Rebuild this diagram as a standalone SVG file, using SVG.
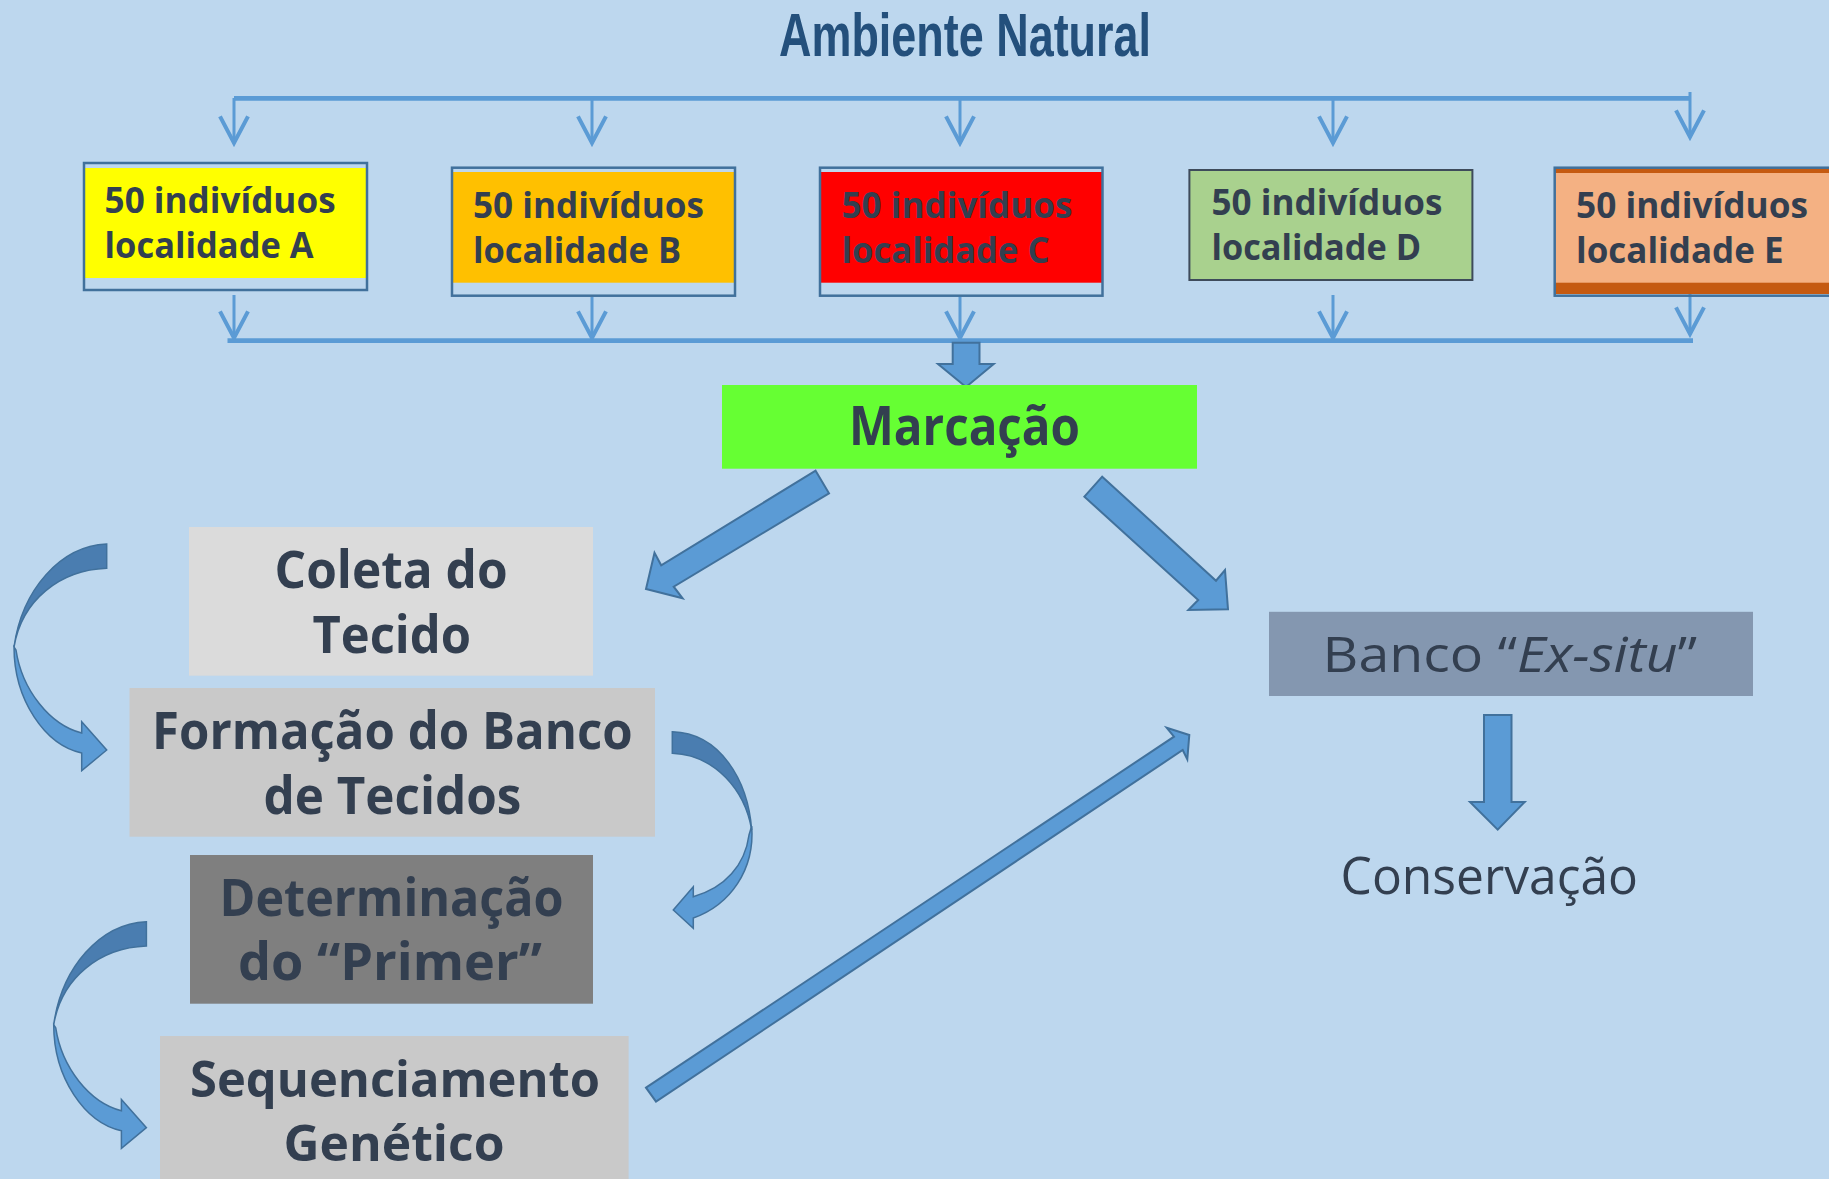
<svg xmlns="http://www.w3.org/2000/svg" width="1829" height="1179" viewBox="0 0 1829 1179">
<style>
.bg{fill:#bdd7ee}
.t{font-family:"Open Sans","DejaVu Sans",sans-serif;fill:#333f50}
.b{font-weight:bold}
.box{font-size:35px}
.big{font-size:52px}
.thin{stroke:#5b9bd5;stroke-width:3;fill:none}
.bar{stroke:#5b9bd5;stroke-width:4.7;fill:none}
.blk{fill:#5b9bd5;stroke:#41719c;stroke-width:2;stroke-linejoin:miter}
.dk{fill:#4a7db0;stroke:#41719c;stroke-width:1.5}
.lt{fill:#5b9bd5;stroke:#41719c;stroke-width:1.5}
.frame{fill:none;stroke:#41719c;stroke-width:2.5}
</style>
<defs>
<marker id="v" markerUnits="userSpaceOnUse" orient="auto" refX="0" refY="0" markerWidth="40" markerHeight="40" viewBox="-25 -15 30 30" overflow="visible">
<path d="M-20,-10.5 L0,0 L-20,10.5" fill="none" stroke="#5b9bd5" stroke-width="3"/>
</marker>
<g id="curl">
<path class="lt" d="M14,647 C14,700 45,745 81.7,753 L81.7,770.7 L106.7,750 L81.7,721.7 L81.7,733 C50,725 22,690 16,650 Z"/>
<path class="dk" d="M106.7,544 C60,546 22,590 14,647 C22,600 60,570 106.7,568.3 Z"/>
</g>
</defs>
<rect class="bg" x="0" y="0" width="1829" height="1179"/>

<g id="title">
<text x="779" y="56" font-size="61" font-weight="bold" textLength="372" lengthAdjust="spacingAndGlyphs" style="fill:#24507c;font-family:'Liberation Sans',sans-serif">Ambiente Natural</text>
</g>

<g id="connectors">
<line class="bar" x1="234" y1="98.3" x2="1691" y2="98.3"/>
<line class="thin" x1="234" y1="98" x2="234" y2="143" marker-end="url(#v)"/>
<line class="thin" x1="592" y1="98" x2="592" y2="143" marker-end="url(#v)"/>
<line class="thin" x1="960" y1="98" x2="960" y2="143" marker-end="url(#v)"/>
<line class="thin" x1="1333" y1="98" x2="1333" y2="143" marker-end="url(#v)"/>
<line class="thin" x1="1690" y1="92" x2="1690" y2="137" marker-end="url(#v)"/>
<line class="thin" x1="234" y1="295" x2="234" y2="338" marker-end="url(#v)"/>
<line class="thin" x1="592" y1="297" x2="592" y2="338" marker-end="url(#v)"/>
<line class="thin" x1="960" y1="297" x2="960" y2="338" marker-end="url(#v)"/>
<line class="thin" x1="1333" y1="295" x2="1333" y2="338" marker-end="url(#v)"/>
<line class="thin" x1="1690" y1="289" x2="1690" y2="334" marker-end="url(#v)"/>
<line class="bar" x1="227.5" y1="340.7" x2="1693" y2="340.7"/>
<polygon class="blk" points="952.7,342.7 979.5,342.7 979.5,364 993.7,364 966,387 938,364 952.7,364"/>
<polygon class="blk" points="815.6,470.7 829,493.3 673.7,586.7 682.6,598.3 646,589 654.5,552.7 661.2,565.3"/>
<polygon class="blk" points="1102.2,476.7 1216,580.7 1225,570 1228,609.3 1188.4,610 1198.2,600 1084.4,496.7"/>
<polygon class="blk" points="646,1087.7 1174,736.7 1166.7,727.7 1189.3,735 1187.3,759.3 1182.7,750 656,1101.7"/>
<polygon class="blk" points="1484,715 1511.5,715 1511.5,802 1524.7,802 1497.7,829.7 1470,802 1484,802"/>
<use href="#curl"/>
<use href="#curl" transform="translate(39.7,377.7)"/>
<path class="lt" d="M751.7,826 C755,870 730,905 693.3,918 L693.3,928.3 L673.3,910 L693.3,886.7 L693.3,896.7 C725,888 745,865 749,835 Z"/>
<path class="dk" d="M672.3,731.7 C720,733 748,780 751.7,830 C745,790 715,755 672.3,753.3 Z"/>
</g>

<g id="boxA">
<rect x="84" y="168" width="283" height="110" fill="#ffff00"/>
<rect class="frame" x="84" y="163" width="283" height="127"/>
<text class="t b box" x="104.6" y="213" textLength="231" lengthAdjust="spacingAndGlyphs">50 indivíduos</text>
<text class="t b box" x="104.6" y="258" textLength="209" lengthAdjust="spacingAndGlyphs">localidade A</text>
</g>
<g id="boxB">
<rect x="452" y="172" width="283" height="110.7" fill="#ffc000"/>
<rect class="frame" x="452" y="167.7" width="283" height="128"/>
<text class="t b box" x="473" y="218" textLength="231" lengthAdjust="spacingAndGlyphs">50 indivíduos</text>
<text class="t b box" x="473" y="262.7" textLength="208" lengthAdjust="spacingAndGlyphs">localidade B</text>
</g>
<g id="boxC">
<rect x="820" y="172" width="282.5" height="110.7" fill="#ff0000"/>
<rect class="frame" x="820" y="167.7" width="282.5" height="128"/>
<text class="t b box" x="841.5" y="218" textLength="231" lengthAdjust="spacingAndGlyphs">50 indivíduos</text>
<text class="t b box" x="841.5" y="262.7" textLength="208" lengthAdjust="spacingAndGlyphs">localidade C</text>
</g>
<g id="boxD">
<rect x="1189.4" y="170" width="283" height="110" fill="#a9d18e" stroke="#3e4b5b" stroke-width="2"/>
<text class="t b box" x="1211.5" y="215" textLength="231" lengthAdjust="spacingAndGlyphs">50 indivíduos</text>
<text class="t b box" x="1211.5" y="260" textLength="209.5" lengthAdjust="spacingAndGlyphs">localidade D</text>
</g>
<g id="boxE">
<rect x="1554.7" y="168" width="290" height="126" fill="#c55a11"/>
<rect x="1554.7" y="173" width="290" height="109.7" fill="#f4b183"/>
<rect class="frame" x="1554.7" y="167.7" width="290" height="128"/>
<text class="t b box" x="1576" y="218" textLength="232" lengthAdjust="spacingAndGlyphs">50 indivíduos</text>
<text class="t b box" x="1576" y="262.7" textLength="207.5" lengthAdjust="spacingAndGlyphs">localidade E</text>
</g>

<g id="marcacao">
<rect x="722" y="385" width="475" height="83.7" fill="#66ff33"/>
<text class="t b" x="849" y="445" font-size="53" textLength="231" lengthAdjust="spacingAndGlyphs">Marcação</text>
</g>

<g id="coleta">
<rect x="189" y="527" width="404" height="148.7" fill="#dbdbdb"/>
<text class="t b big" x="274.6" y="588" textLength="233" lengthAdjust="spacingAndGlyphs">Coleta do</text>
<text class="t b big" x="312.5" y="652.7" textLength="158.5" lengthAdjust="spacingAndGlyphs">Tecido</text>
</g>

<g id="formacao">
<rect x="129.5" y="688" width="525.5" height="148.7" fill="#c9c9c9"/>
<text class="t b big" x="152" y="749" textLength="480.6" lengthAdjust="spacingAndGlyphs">Formação do Banco</text>
<text class="t b big" x="263.4" y="814" textLength="258" lengthAdjust="spacingAndGlyphs">de Tecidos</text>
</g>

<g id="determinacao">
<rect x="190" y="855" width="403" height="148.7" fill="#7f7f7f"/>
<text class="t b big" x="219.6" y="916" textLength="344" lengthAdjust="spacingAndGlyphs">Determinação</text>
<text class="t b big" x="238" y="980" textLength="304" lengthAdjust="spacingAndGlyphs">do “Primer”</text>
</g>

<g id="sequenciamento">
<rect x="160" y="1036" width="468.6" height="150" fill="#c9c9c9"/>
<text class="t b" x="190" y="1097" font-size="50" textLength="410" lengthAdjust="spacingAndGlyphs">Sequenciamento</text>
<text class="t b" x="283.5" y="1161" font-size="50" textLength="221" lengthAdjust="spacingAndGlyphs">Genético</text>
</g>

<g id="banco">
<rect x="1269" y="611.8" width="484" height="84.2" fill="#8497b0"/>
<text class="t" x="1322.6" y="672" font-size="49" textLength="374.6" lengthAdjust="spacingAndGlyphs">Banco “<tspan font-style="italic">Ex-situ</tspan>”</text>
</g>

<g id="conservacao">
<text class="t" x="1340.6" y="893.6" font-size="52" textLength="297.4" lengthAdjust="spacingAndGlyphs">Conservação</text>
</g>
</svg>
